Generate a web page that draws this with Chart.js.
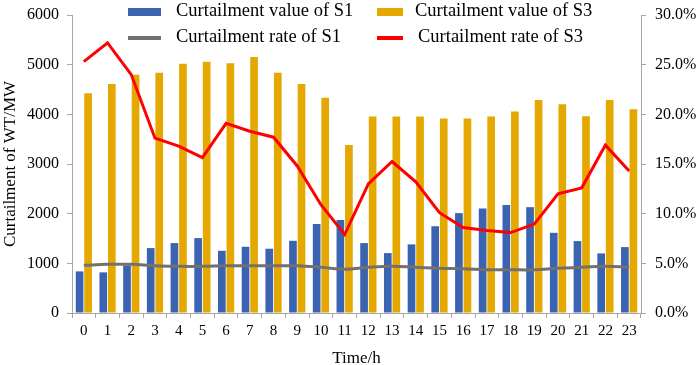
<!DOCTYPE html>
<html>
<head>
<meta charset="utf-8">
<script src="https://cdn.jsdelivr.net/npm/chart.js@4"></script>
<style>
    body { margin: 0; background: #fff; }
    #wrap { width: 699px; height: 365px; }
</style>
</head>
<body>
<div id="wrap"><canvas id="grafico_canvas" width="699" height="365"></canvas></div>
<script>
// dados
var horas = ['0', '1', '2', '3', '4', '5', '6', '7', '8', '9', '10', '11',
    '12', '13', '14', '15', '16', '17', '18', '19', '20', '21', '22', '23'];

var valorS1 = [838, 818, 958, 1307, 1408, 1508, 1253, 1334, 1294, 1454, 1790, 1870,
    1408, 1206, 1381, 1749, 2011, 2105, 2172, 2131, 1615, 1448, 1200, 1327];

var valorS3 = [4424, 4611, 4799, 4839, 5020, 5060, 5027, 5154, 4839, 4611, 4336, 3385,
    3954, 3954, 3954, 3914, 3914, 3954, 4055, 4290, 4202, 3961, 4290, 4102];

var taxaS1 = [4.8, 4.9, 4.9, 4.75, 4.7, 4.7, 4.75, 4.75, 4.75, 4.75, 4.6, 4.4,
    4.6, 4.7, 4.6, 4.5, 4.45, 4.35, 4.35, 4.35, 4.5, 4.6, 4.7, 4.6];

var taxaS3 = [25.3, 27.2, 24.0, 17.6, 16.8, 15.65, 19.1, 18.3, 17.7, 14.8, 10.9, 7.9,
    13.0, 15.25, 13.2, 10.1, 8.6, 8.3, 8.1, 8.95, 12.0, 12.6, 16.9, 14.3];

var fonte = '"Liberation Serif", "Times New Roman", serif';
var corAzul = '#3A63B2';
var corLaranja = '#E5A800';
var corCinza = '#747070';
var corVermelho = '#FF0000';
var corEixo = '#A6A6A6';

// legenda desenhada dentro da area do grafico
var legendaPlugin = {
    id: 'legendaManual',
    afterDraw: function (chart) {
        var ctx = chart.ctx;
        ctx.save();
        ctx.font = '18.5px ' + fonte;
        ctx.textBaseline = 'alphabetic';

        ctx.fillStyle = corAzul;
        ctx.fillRect(128, 8, 33, 8);
        ctx.fillStyle = corLaranja;
        ctx.fillRect(377, 8, 26, 8);

        ctx.lineWidth = 4;
        ctx.strokeStyle = corCinza;
        ctx.beginPath(); ctx.moveTo(128, 38); ctx.lineTo(161, 38); ctx.stroke();
        ctx.strokeStyle = corVermelho;
        ctx.beginPath(); ctx.moveTo(377, 38); ctx.lineTo(403, 38); ctx.stroke();

        ctx.fillStyle = '#000';
        ctx.fillText('Curtailment value of S1', 176, 16);
        ctx.fillText('Curtailment value of S3', 415, 16);
        ctx.fillText('Curtailment rate of S1', 176, 42);
        ctx.fillText('Curtailment rate of S3', 418, 42);
        ctx.restore();
    }
};

function plotarGrafico() {
    var dados = {
        labels: horas,
        datasets: [{
            type: 'line',
            label: 'Curtailment rate of S3',
            data: taxaS3,
            yAxisID: 'y1',
            borderColor: corVermelho,
            borderWidth: 3,
            pointRadius: 0,
            tension: 0,
            order: 1
        }, {
            type: 'line',
            label: 'Curtailment rate of S1',
            data: taxaS1,
            yAxisID: 'y1',
            borderColor: corCinza,
            borderWidth: 3,
            pointRadius: 0,
            tension: 0.4,
            order: 1
        }, {
            type: 'bar',
            label: 'Curtailment value of S1',
            data: valorS1,
            yAxisID: 'y',
            backgroundColor: corAzul,
            categoryPercentage: 0.72,
            barPercentage: 0.9,
            order: 2
        }, {
            type: 'bar',
            label: 'Curtailment value of S3',
            data: valorS3,
            yAxisID: 'y',
            backgroundColor: corLaranja,
            categoryPercentage: 0.72,
            barPercentage: 0.9,
            order: 2
        }]
    };

    var config = {
        type: 'bar',
        data: dados,
        options: {
            responsive: false,
            animation: false,
            layout: { padding: { top: 15, left: 0, right: 0, bottom: 0 } },
            plugins: {
                legend: { display: false },
                tooltip: { enabled: false }
            },
            scales: {
                x: {
                    grid: { drawOnChartArea: false, drawTicks: true, tickLength: 5, color: corEixo, offset: true },
                    border: { color: corEixo, width: 1 },
                    ticks: { color: '#000', font: { family: fonte, size: 15 }, padding: 4, maxRotation: 0, autoSkip: false },
                    title: { display: true, text: 'Time/h', color: '#000', font: { family: fonte, size: 17 }, padding: { top: 0, bottom: -4 } },
                    afterFit: function (s) { s.height = 52; }
                },
                y: {
                    position: 'left',
                    min: 0, max: 6000,
                    grid: { drawOnChartArea: false, drawTicks: true, tickLength: 5, color: corEixo },
                    border: { color: corEixo, width: 1 },
                    ticks: {
                        stepSize: 1000, color: '#000', font: { family: fonte, size: 16 }, padding: 8,
                        callback: function (v) { return String(v); }
                    },
                    title: { display: true, text: 'Curtailment of WT/MW', color: '#000', font: { family: fonte, size: 17 }, padding: 0 },
                    afterFit: function (s) { s.width = 72; s.paddingTop = 0; s.paddingBottom = 0; }
                },
                y1: {
                    position: 'right',
                    min: 0, max: 30,
                    grid: { drawOnChartArea: false, drawTicks: true, tickLength: 5, color: corEixo },
                    border: { color: corEixo, width: 1 },
                    ticks: {
                        stepSize: 5, color: '#000', font: { family: fonte, size: 16 }, padding: 9,
                        callback: function (v) { return v.toFixed(1) + '%'; }
                    },
                    afterFit: function (s) { s.width = 58; s.paddingTop = 0; s.paddingBottom = 0; }
                }
            }
        },
        plugins: [legendaPlugin]
    };

    var myChart = new Chart(document.getElementById('grafico_canvas'), config);
}

window.addEventListener('load', function () {
    plotarGrafico();
});
</script>
</body>
</html>
